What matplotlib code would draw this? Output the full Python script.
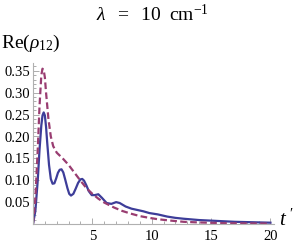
import matplotlib
matplotlib.use("Agg")
import matplotlib.pyplot as plt
from matplotlib.ticker import MultipleLocator, FixedLocator

plt.rcParams['font.family'] = ['Liberation Serif', 'DejaVu Serif']
plt.rcParams['mathtext.fontset'] = 'custom'
plt.rcParams['mathtext.rm'] = 'Liberation Serif'
plt.rcParams['mathtext.it'] = 'Liberation Serif:italic'

# solid curve (blue)
t_solid = [0, 0.2, 0.4, 0.55, 0.7, 0.8, 0.9, 1.0, 1.1, 1.2, 1.35, 1.5, 1.65, 1.8, 1.95,
           2.1, 2.25, 2.4, 2.55, 2.7, 2.9, 3.05, 3.2, 3.4, 3.6, 3.8, 4.0, 4.15, 4.3, 4.5,
           4.7, 4.95, 5.2, 5.5, 5.8, 6.2, 6.6, 7.0, 7.3, 7.8, 8.3, 8.8, 9.3, 9.8, 10.5,
           11.3, 12.0, 12.7, 14, 15.5, 17, 18.5, 20]
re_solid = [0, 0.03, 0.10, 0.17, 0.225, 0.248, 0.255, 0.248, 0.222, 0.185, 0.135, 0.103,
            0.092, 0.093, 0.104, 0.117, 0.124, 0.125, 0.118, 0.103, 0.082, 0.069, 0.065,
            0.069, 0.081, 0.094, 0.102, 0.103, 0.099, 0.088, 0.075, 0.066, 0.066, 0.068,
            0.060, 0.048, 0.046, 0.050, 0.048, 0.040, 0.035, 0.032, 0.029, 0.025, 0.022,
            0.017, 0.014, 0.012, 0.009, 0.007, 0.005, 0.004, 0.003]

# dashed curve (purple)
t_dash = [0, 0.2, 0.4, 0.55, 0.7, 0.8, 0.9, 1.0, 1.1, 1.3, 1.5, 1.7, 2.0, 2.5, 3.0, 3.5,
          4.0, 4.5, 5.0, 5.5, 6.0, 6.8, 7.5, 8.2, 9.0, 9.8, 10.5, 11.5, 12.7, 14, 16, 18, 20]
re_dash = [0, 0.06, 0.17, 0.27, 0.34, 0.355, 0.352, 0.335, 0.30, 0.24, 0.20, 0.178, 0.163,
           0.150, 0.135, 0.117, 0.099, 0.082, 0.069, 0.058, 0.049, 0.038, 0.030, 0.024,
           0.018, 0.014, 0.011, 0.008, 0.005, 0.0035, 0.002, 0.0015, 0.001]

x_major = [5, 10, 15, 20]
y_major = [0.05, 0.10, 0.15, 0.20, 0.25, 0.30, 0.35]
y_labels = ['0.05', '0.10', '0.15', '0.20', '0.25', '0.30', '0.35']

fig = plt.figure(figsize=(3.0, 2.45), dpi=100)
ax = fig.add_axes([33/300, 1 - 224/245, 241/300, (224 - 63)/245])

ax.plot(t_solid, re_solid, color='#3d3d99', lw=1.6, solid_joinstyle='round')
ax.plot(t_dash, re_dash, color='#993d71', lw=1.6, ls=(0, (3.0, 1.5)))

ax.set_xlim(0, 20.3)
ax.set_ylim(0, 0.368)

for s in ['top', 'right']:
    ax.spines[s].set_visible(False)
for s in ['left', 'bottom']:
    ax.spines[s].set_color('#b0b0b0')
    ax.spines[s].set_linewidth(0.8)

ax.xaxis.set_major_locator(FixedLocator(x_major))
ax.xaxis.set_minor_locator(MultipleLocator(1))
ax.yaxis.set_major_locator(FixedLocator(y_major))
ax.yaxis.set_minor_locator(MultipleLocator(0.01))
ax.set_yticklabels(y_labels)
ax.tick_params(which='both', direction='in', color='#a0a0a0', labelsize=10.5,
               labelcolor='black', width=0.6)
ax.tick_params(which='major', length=4)
ax.tick_params(axis='y', which='major', pad=2)
ax.tick_params(axis='x', which='major', pad=4)
ax.tick_params(which='minor', length=2)

fig.text(152/300, 1 - 15/245, r'$\lambda\ \ =\ \ 10\ \ \mathrm{cm}^{-1}$', ha='center',
         va='center', fontsize=14)
fig.text(1/300, 1 - 43/245, r'$\mathrm{Re(}\rho_{12}\mathrm{)}$', ha='left', va='center',
         fontsize=14)
fig.text(287/300, 1 - 220/245, r"$t\ '$", ha='center', va='center', fontsize=15)

fig.savefig('out.png', dpi=100)
